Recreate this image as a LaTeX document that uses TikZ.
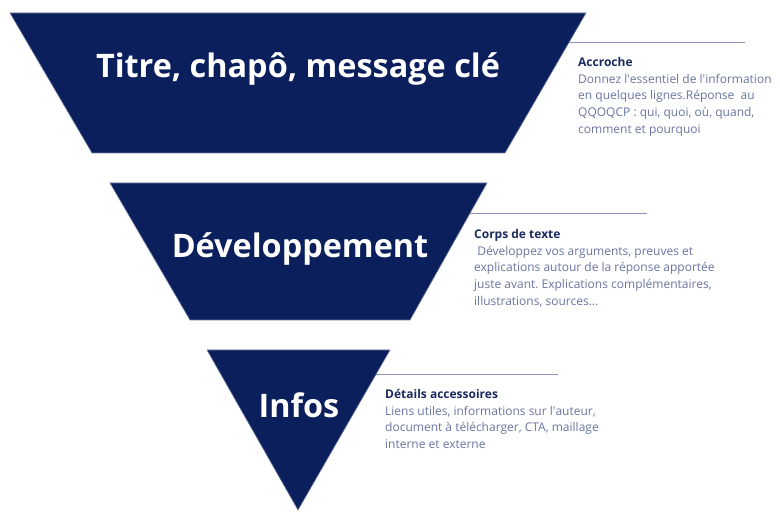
\documentclass[tikz,border=0pt]{standalone}
\usepackage{fontspec}
\setmainfont{Open Sans}
\frenchspacing
\definecolor{navy}{HTML}{0B1F5C}
\definecolor{desc}{HTML}{6A74A0}
\definecolor{head}{HTML}{1B2A5E}
\definecolor{rulec}{HTML}{8C96BC}
\tikzset{
  shapefill/.style={fill=navy, draw=navy!60!white, line width=0.6pt},
  bigtitle/.style={text=white, font=\fontsize{32.4}{38}\selectfont\bfseries, inner sep=0pt},
  rulestyle/.style={draw=rulec, line width=1pt},
  descbox/.style={anchor=north west, inner sep=0pt, align=left, text=desc,
     font=\fontsize{12}{16.8}\selectfont\frenchspacing},
}
\newcommand{\hd}[1]{{\color{head}\bfseries #1}}
\newcommand{\ap}{\textquotesingle}
\begin{document}
\begin{tikzpicture}[x=1pt,y=-1pt]
\useasboundingbox (0,0) rectangle (780,521);
% shapes
\path[shapefill] (10,13) -- (586,13) -- (505,153) -- (92,153) -- cycle;
\path[shapefill] (110,183) -- (487,183) -- (410,320) -- (190,320) -- cycle;
\path[shapefill] (207,350) -- (390,350) -- (298,510) -- cycle;
% titles
\node[bigtitle] (t1) at (298,69) {Titre, chapô, message clé};
\node[bigtitle] (t2) at (300,249) {Développement};
\node[bigtitle] (t3) at (299,405) {Infos};
% rules
\coordinate (l1a) at (569,43); \coordinate (l1b) at (745,43);
\coordinate (l2a) at (470,214); \coordinate (l2b) at (647,214);
\coordinate (l3a) at (376,375); \coordinate (l3b) at (558,375);
\draw[rulestyle] (l1a) -- (l1b);
\draw[rulestyle] (l2a) -- (l2b);
\draw[rulestyle] (l3a) -- (l3b);
% descriptions
\node[descbox] (d1) at (578,57) {\hd{Accroche}\\Donnez l\ap essentiel de l\ap information\\en quelques lignes.Réponse\ \ au\\QQOQCP : qui, quoi, où, quand,\\comment et pourquoi};
\node[descbox] (d2) at (474,229) {\hd{Corps de texte}\\\ Développez vos arguments, preuves et\\explications autour de la réponse apportée\\juste avant. Explications complémentaires,\\illustrations, sources...};
\node[descbox] (d3) at (385,389) {\hd{Détails accessoires}\\Liens utiles, informations sur l\ap auteur,\\document à télécharger, CTA, maillage\\interne et externe};
\end{tikzpicture}
\end{document}
